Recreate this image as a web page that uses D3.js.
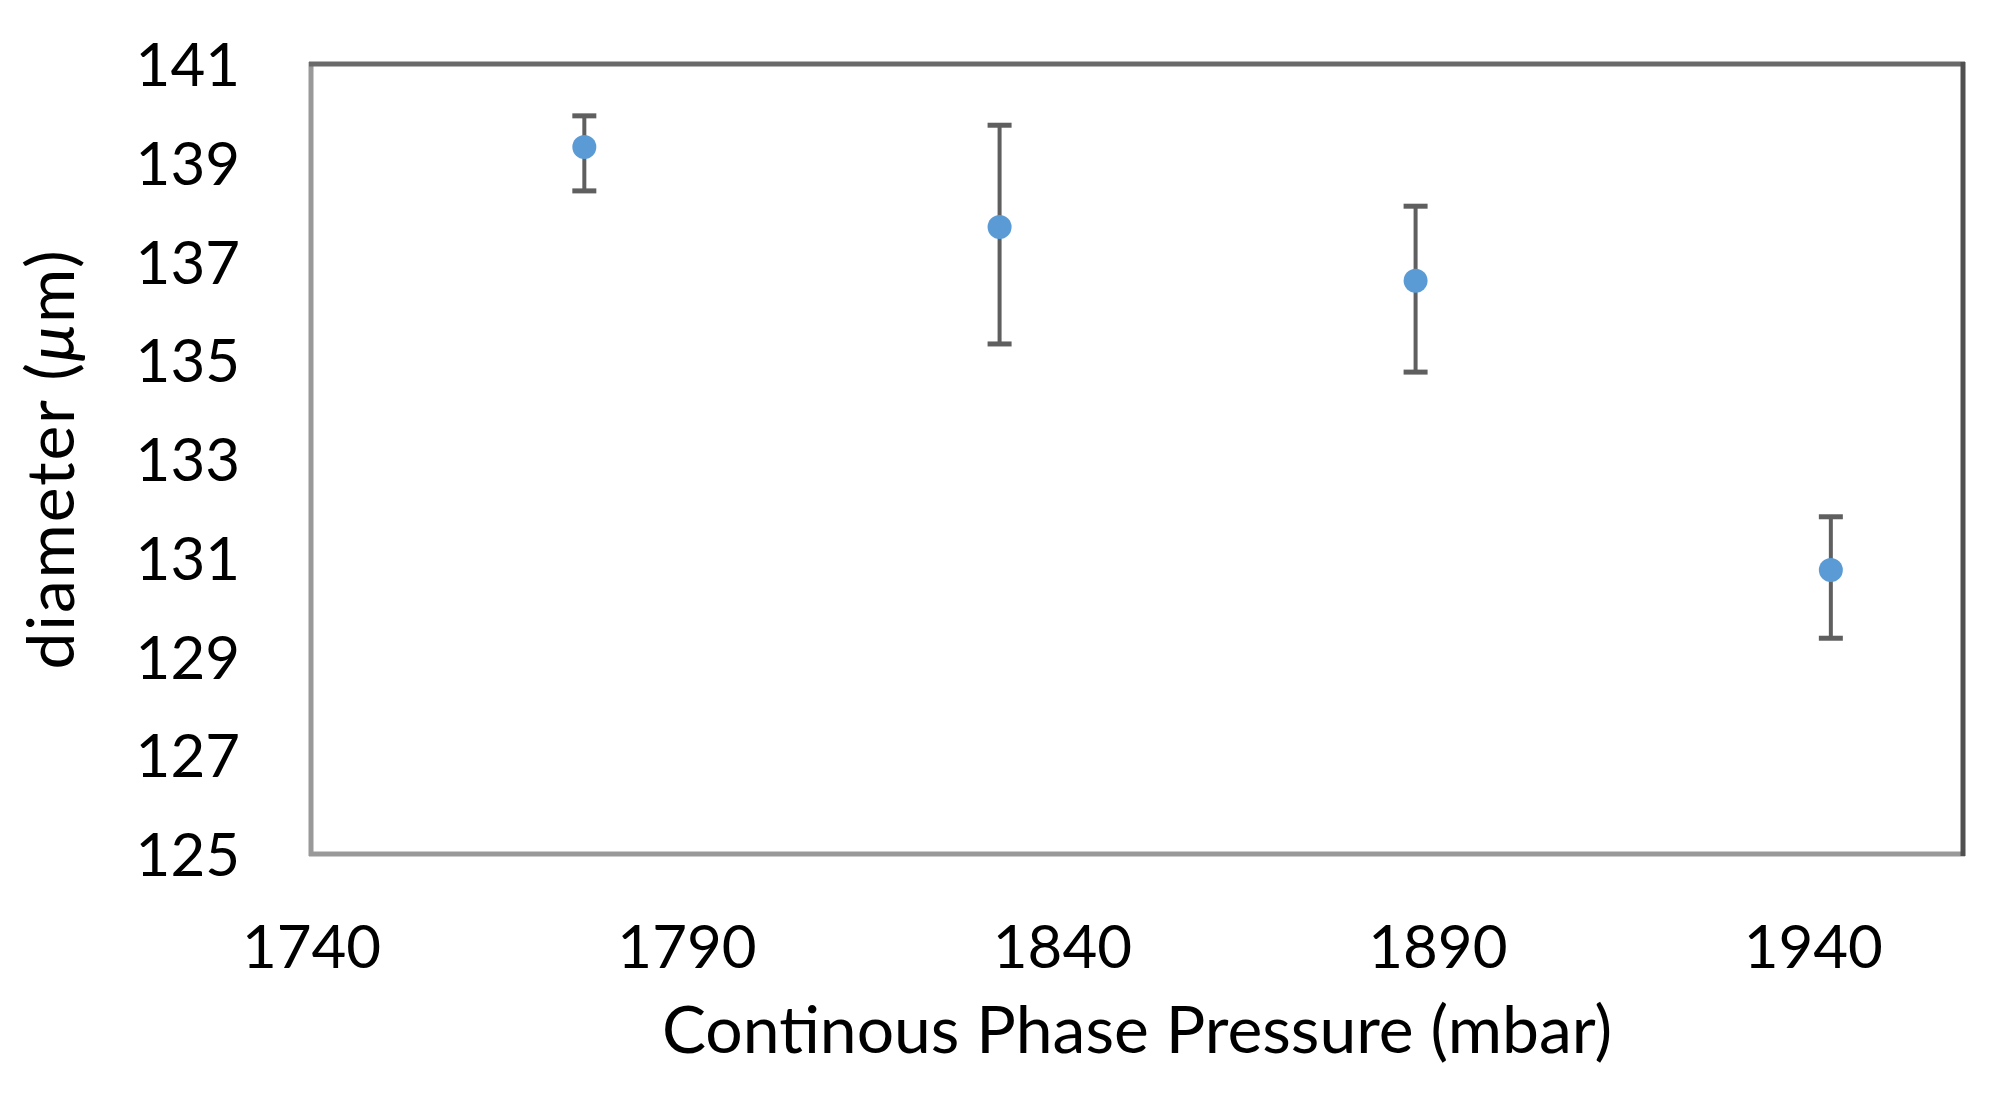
<!DOCTYPE html>
<html>
<head>
<meta charset="utf-8">
<script src="https://cdn.jsdelivr.net/npm/d3@7"></script>
<style>
html,body{margin:0;padding:0;background:#fff;}
svg{display:block;}
text{font-family:Lato,"Open Sans",sans-serif;fill:#000;}
</style>
</head>
<body>
<svg id="chart" width="2008" height="1096"></svg>
<script>
const pressure = [1776.4, 1831.7, 1887.1, 1942.4];
const diameter = [139.32, 137.70, 136.61, 130.75];
const errHigh = [139.95, 139.76, 138.12, 131.83];
const errLow = [138.43, 135.33, 134.76, 129.37];
const xTicks = [1740, 1790, 1840, 1890, 1940];
const yTicks = [125, 127, 129, 131, 133, 135, 137, 139, 141];
const xTitle = "Continous Phase Pressure (mbar)";

const svg = d3.select("#chart");
const L = 311, R = 1963, T = 64, B = 854;
const x = d3.scaleLinear().domain([1740, 1960]).range([L, R]);
const y = d3.scaleLinear().domain([125, 141]).range([B, T]);

// axes (labels only, no tick marks)
const xAxis = d3.axisBottom(x).tickValues(xTicks).tickSize(0).tickPadding(0).tickFormat(d3.format("d"));
const gx = svg.append("g").attr("transform", `translate(0,${B})`).call(xAxis);
gx.select(".domain").remove();
gx.selectAll("text").attr("dy", null).attr("y", 114).style("font-size", "60px").style("font-family", "Lato,'Open Sans',sans-serif").attr("fill", "#000");

const yAxis = d3.axisLeft(y).tickValues(yTicks).tickSize(0).tickPadding(0).tickFormat(d3.format("d"));
const gy = svg.append("g").attr("transform", `translate(${L - 71},0)`).call(yAxis);
gy.select(".domain").remove();
gy.selectAll("text").attr("x", 0).attr("dy", "0.36em").style("font-size", "60px").style("font-family", "Lato,'Open Sans',sans-serif").attr("fill", "#000");

// plot border
svg.append("line").attr("x1", L).attr("x2", L).attr("y1", T - 2).attr("y2", B + 2).attr("stroke", "#999").attr("stroke-width", 5);
svg.append("line").attr("x1", L - 2).attr("x2", R + 2).attr("y1", B).attr("y2", B).attr("stroke", "#999").attr("stroke-width", 5);
svg.append("line").attr("x1", L - 2).attr("x2", R + 2).attr("y1", T).attr("y2", T).attr("stroke", "#6a6a6a").attr("stroke-width", 5);
svg.append("line").attr("x1", R).attr("x2", R).attr("y1", T - 2).attr("y2", B + 2).attr("stroke", "#505050").attr("stroke-width", 5);

const data = pressure.map((p, i) => ({p, d: diameter[i], hi: errHigh[i], lo: errLow[i]}));

// error bars
const eb = svg.append("g").attr("stroke", "#5f5f5f");
eb.selectAll("line.v").data(data).join("line").attr("class", "v")
  .attr("x1", d => x(d.p)).attr("x2", d => x(d.p))
  .attr("y1", d => y(d.hi)).attr("y2", d => y(d.lo)).attr("stroke-width", 4);
eb.selectAll("line.ct").data(data).join("line").attr("class", "ct")
  .attr("x1", d => x(d.p) - 12).attr("x2", d => x(d.p) + 12)
  .attr("y1", d => y(d.hi)).attr("y2", d => y(d.hi)).attr("stroke-width", 5);
eb.selectAll("line.cb").data(data).join("line").attr("class", "cb")
  .attr("x1", d => x(d.p) - 12).attr("x2", d => x(d.p) + 12)
  .attr("y1", d => y(d.lo)).attr("y2", d => y(d.lo)).attr("stroke-width", 5);

// points
svg.append("g").selectAll("circle").data(data).join("circle")
  .attr("cx", d => x(d.p)).attr("cy", d => y(d.d)).attr("r", 12).attr("fill", "#5b9bd5");

// axis titles
svg.append("text").attr("x", (L + R) / 2).attr("y", 1053).attr("text-anchor", "middle")
  .style("font-size", "66px").text(xTitle);

const yt = svg.append("text").attr("transform", `translate(74,${(T + B) / 2}) rotate(-90)`).attr("text-anchor", "middle")
  .style("font-size", "66px").style("letter-spacing", "1.8px");
yt.append("tspan").text("diameter (");
yt.append("tspan").style("font-style", "italic").text("μ");
yt.append("tspan").text("m)");
</script>
</body>
</html>
